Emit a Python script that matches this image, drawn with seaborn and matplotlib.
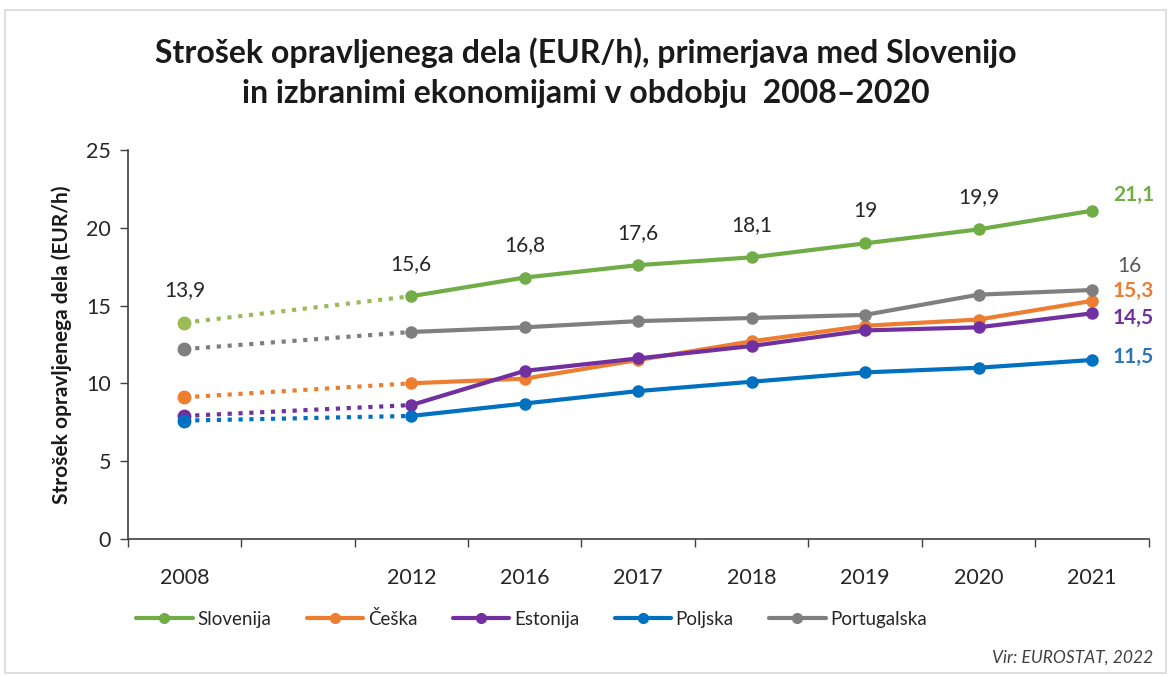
import pandas as pd
import matplotlib.pyplot as plt
import seaborn as sns
from matplotlib.lines import Line2D
from matplotlib.patches import Rectangle

sns.set_theme(style="white")
plt.rcParams["font.family"] = ["Lato", "DejaVu Sans"]

# data
years = ["2008", "2012", "2016", "2017", "2018", "2019", "2020", "2021"]
slovenija = [13.9, 15.6, 16.8, 17.6, 18.1, 19.0, 19.9, 21.1]
ceska = [9.1, 10.0, 10.3, 11.5, 12.7, 13.7, 14.1, 15.3]
estonija = [7.9, 8.6, 10.8, 11.6, 12.4, 13.4, 13.6, 14.5]
poljska = [7.6, 7.9, 8.7, 9.5, 10.1, 10.7, 11.0, 11.5]
portugalska = [12.2, 13.3, 13.6, 14.0, 14.2, 14.4, 15.7, 16.0]

countries = ["Slovenija", "Češka", "Estonija", "Poljska", "Portugalska"]
values = [slovenija, ceska, estonija, poljska, portugalska]
colors = ["#70AD47", "#ED7D31", "#7030A0", "#0070C0", "#7F7F7F"]
dot_colors = ["#9BBB59", "#ED7D31", "#7030A0", "#0070C0", "#7F7F7F"]

# 2008 sits two slots before 2012 (empty category in between)
xpos = [0, 2, 3, 4, 5, 6, 7, 8]

rows = []
for c, vals in zip(countries, values):
    for y, x, v in zip(years, xpos, vals):
        rows.append({"country": c, "year": y, "x": x, "value": v})
df = pd.DataFrame(rows)

fig, ax = plt.subplots(figsize=(11.71, 6.76), dpi=100)
fig.subplots_adjust(left=0.109, right=0.981, top=0.778, bottom=0.203)

# dotted part 2008-2012
early = df[df["year"].isin(["2008", "2012"])]
for c, col in zip(countries, dot_colors):
    sub = early[early["country"] == c]
    sns.lineplot(data=sub, x="x", y="value", color=col, lw=3,
                 linestyle=(0, (1, 1.6)), ax=ax, legend=False)
    first = sub[sub["year"] == "2008"]
    ax.plot(first["x"], first["value"], "o", color=col, ms=9, zorder=3)

# solid part 2012-2021
late = df[df["year"] != "2008"]
sns.lineplot(data=late, x="x", y="value", hue="country", palette=colors,
             hue_order=countries, lw=3, marker="o", markersize=9,
             markeredgewidth=0, ax=ax, legend=False)

ax.set_xlim(-0.5, 8.5)
ax.set_ylim(0, 25)
ax.set_yticks([0, 5, 10, 15, 20, 25])
ax.set_xticks(xpos)
ax.set_xticklabels(years, fontsize=15.5, color="#262626")
ax.set_xticks([i - 0.5 for i in range(10)], minor=True)
ax.tick_params(axis="y", labelsize=15.5, labelcolor="#262626", length=6,
               width=1, color="#404040", pad=6, left=True)
ax.tick_params(axis="x", which="major", length=0, pad=21)
ax.tick_params(axis="x", which="minor", length=6, width=1,
               color="#404040", bottom=True)
ax.set_xlabel("")
ax.set_ylabel("Strošek opravljenega dela (EUR/h)", fontsize=15,
              fontweight="bold", labelpad=10, color="#1a1a1a")
for side in ["top", "right"]:
    ax.spines[side].set_visible(False)
for side in ["left", "bottom"]:
    ax.spines[side].set_color("#404040")
    ax.spines[side].set_linewidth(1.2)

# Slovenian labels above points
for x, v in zip(xpos[:-1], slovenija[:-1]):
    lab = f"{v:g}".replace(".", ",")
    ax.annotate(lab, (x, v), xytext=(0, 19), textcoords="offset points",
                ha="center", fontsize=15, color="#262626")

# end labels
end_offsets = [(15, 11), (15, 7), (15, -3), (15, 2), (18, 17)]
end_colors = ["#70AD47", "#ED7D31", "#7030A0", "#2E75B6", "#595959"]
end_weights = ["bold", "bold", "bold", "bold", "normal"]
for vals, off, col, w in zip(values, end_offsets, end_colors, end_weights):
    v = vals[-1]
    lab = f"{v:g}".replace(".", ",")
    ax.annotate(lab, (xpos[-1], v), xytext=off, textcoords="offset points",
                ha="left", va="center", fontsize=15, color=col, fontweight=w)

fig.suptitle("Strošek opravljenega dela (EUR/h), primerjava med Slovenijo\n"
             "in izbranimi ekonomijami v obdobju  2008–2020",
             fontsize=23, fontweight="bold", y=0.945, linespacing=1.45,
             color="#1a1a1a")

handles = [Line2D([], [], color=c, lw=3, marker="o", ms=7) for c in colors]
fig.legend(handles, countries, loc="lower left", bbox_to_anchor=(0.102, 0.046),
           ncol=5, frameon=False, fontsize=13.5, handlelength=3.0,
           handletextpad=0.25, columnspacing=1.9)

fig.text(0.985, 0.02, "Vir: EUROSTAT, 2022", ha="right", fontsize=12.5,
         style="italic", color="#404040")

fig.patches.append(Rectangle((0.004, 0.005), 0.992, 0.98,
                             transform=fig.transFigure, fill=False,
                             edgecolor="#D9D9D9", lw=1.2))

fig.savefig("out.png", dpi=100)
